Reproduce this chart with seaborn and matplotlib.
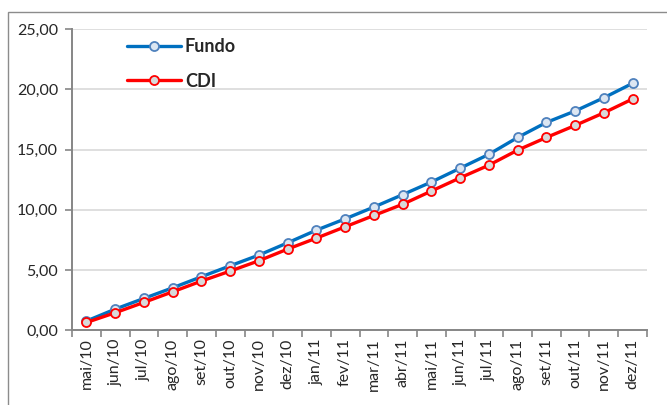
import numpy as np
import pandas as pd
import seaborn as sns
import matplotlib.pyplot as plt
from matplotlib.patches import Rectangle
from matplotlib.ticker import FixedLocator, FuncFormatter

meses = ["mai/10", "jun/10", "jul/10", "ago/10", "set/10", "out/10", "nov/10",
         "dez/10", "jan/11", "fev/11", "mar/11", "abr/11", "mai/11", "jun/11",
         "jul/11", "ago/11", "set/11", "out/11", "nov/11", "dez/11"]
fundo = [0.75, 1.74, 2.63, 3.51, 4.43, 5.34, 6.23, 7.25, 8.30, 9.24,
         10.22, 11.25, 12.30, 13.45, 14.60, 16.00, 17.25, 18.20, 19.30, 20.50]
cdi = [0.63, 1.44, 2.30, 3.18, 4.07, 4.90, 5.76, 6.73, 7.64, 8.58,
       9.52, 10.45, 11.55, 12.65, 13.70, 14.95, 16.00, 17.00, 18.05, 19.20]

df = pd.DataFrame({"pos": np.arange(len(meses)), "mes": meses,
                   "Fundo": fundo, "CDI": cdi})

sns.set_style("white")
plt.rcParams["font.family"] = ["Lato", "DejaVu Sans"]

fig = plt.figure(figsize=(6.67, 4.05), dpi=100)
ax = fig.add_axes([0.108, 0.185, 0.862, 0.743])

# moldura externa do gráfico
fig.patches.append(Rectangle((0.012, -0.01), 1.0, 0.98, transform=fig.transFigure,
                             fill=False, edgecolor="#8c8c8c", linewidth=1.0))

sns.lineplot(data=df, x="pos", y="Fundo", ax=ax, color="#0070c0", linewidth=2.4,
             marker="o", markersize=6.5, markerfacecolor="#dce6f2",
             markeredgecolor="#4f81bd", markeredgewidth=1.3, label="Fundo")
sns.lineplot(data=df, x="pos", y="CDI", ax=ax, color="#ff0000", linewidth=2.4,
             marker="o", markersize=6.5, markerfacecolor="#d9d9d9",
             markeredgecolor="#ff0000", markeredgewidth=1.3, label="CDI")

ax.set_xlim(-0.5, len(meses) - 0.5)
ax.set_ylim(0, 25)
ax.set_yticks(np.arange(0, 26, 5))
ax.yaxis.set_major_formatter(FuncFormatter(lambda v, p: f"{v:.2f}".replace(".", ",")))
ax.set_xticks(df["pos"])
ax.set_xticklabels(meses, rotation=90)
ax.xaxis.set_minor_locator(FixedLocator(np.arange(-0.5, len(meses), 1.0)))
ax.tick_params(axis="x", which="major", length=0, pad=6, labelsize=11.5)
ax.tick_params(axis="x", which="minor", length=5, color="#868686", width=1.2, bottom=True)
ax.tick_params(axis="y", length=5, color="#868686", width=1.2, left=True,
               labelsize=11.5, pad=5)
ax.set_xlabel("")
ax.set_ylabel("")

ax.grid(axis="y", color="#d9d9d9", linewidth=1.2)
ax.set_axisbelow(True)
for s in ["top", "right"]:
    ax.spines[s].set_visible(False)
for s in ["left", "bottom"]:
    ax.spines[s].set_color("#868686")
    ax.spines[s].set_linewidth(1.4)

leg = ax.legend(loc="upper left", bbox_to_anchor=(0.083, 0.993), borderaxespad=0,
                frameon=False, prop={"weight": "bold", "size": 13},
                handlelength=3.0, labelspacing=0.95, handletextpad=0.2)

plt.savefig("out.png", dpi=100)
